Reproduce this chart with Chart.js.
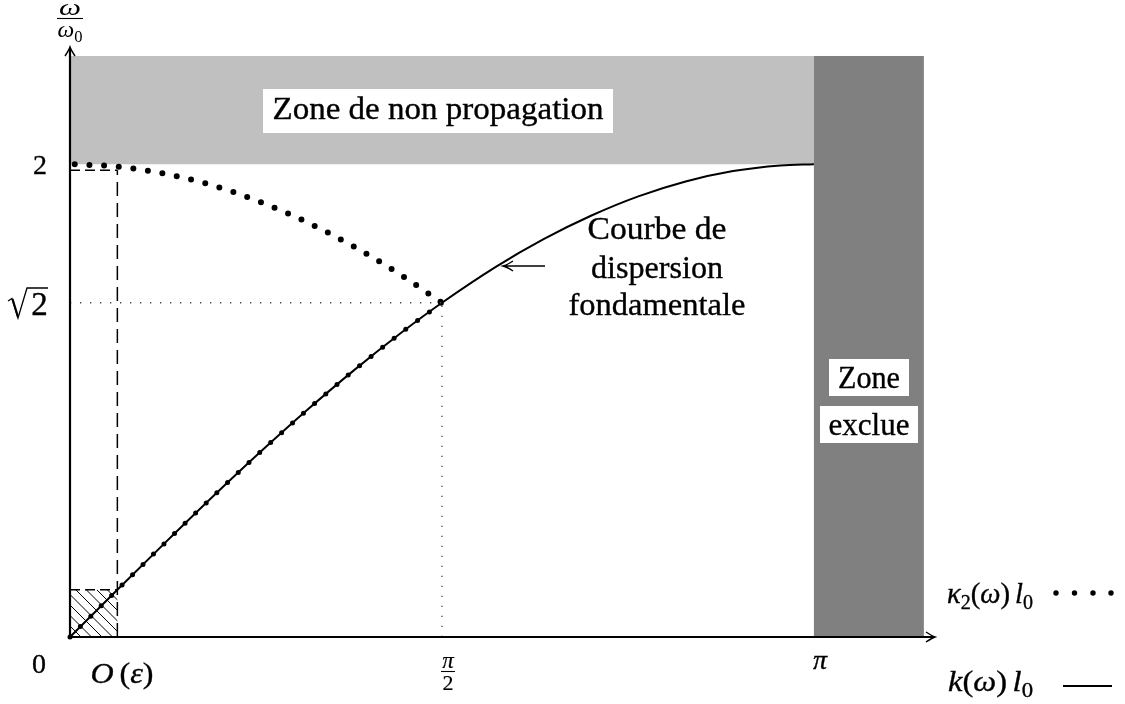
<!DOCTYPE html>
<html><head><meta charset="utf-8">
<script src="https://cdn.jsdelivr.net/npm/chart.js@4.4.0/dist/chart.umd.min.js"></script>
<style>html,body{margin:0;padding:0;background:#fff;}#wrap{width:1125px;height:704px;position:relative}</style>
</head><body><div id="wrap"><canvas id="c" width="1125" height="704"></canvas></div>
<script>
// ---- data (wavenumber k·l0 and reduced frequency ω/ω0) ----
const kSolid = [0, 0.2, 0.4, 0.6, 0.8, 1.0, 1.2, 1.4, 1.5708, 1.8, 2.0, 2.2, 2.4, 2.6, 2.8, 3.0, 3.1416];
const wSolid = [0, 0.200, 0.397, 0.591, 0.779, 0.959, 1.129, 1.288, 1.414, 1.567, 1.683, 1.782, 1.864, 1.927, 1.971, 1.995, 2.0];
const kLow = [0, 0.2, 0.4, 0.6, 0.8, 1.0, 1.2, 1.4, 1.5708];
const wLow = [0, 0.200, 0.397, 0.591, 0.779, 0.959, 1.129, 1.288, 1.414];
const kUp = [0.02, 0.2, 0.4, 0.6, 0.8, 1.0, 1.2, 1.4, 1.5708];
const wUp = [2.0, 1.990, 1.960, 1.911, 1.842, 1.755, 1.651, 1.530, 1.414];
const eps = 0.2, epsTop = 1.975, epsLow = 0.2;
const sqrt2 = 1.414, halfPi = 1.5708, piVal = 3.1416;
const zoneBottom = 2.0, zoneTop = 2.458, excludedEnd = 3.606;
const xMax = 3.653, yMax = 2.496;

const pts = (xs, ys) => xs.map((x, i) => ({x: x, y: ys[i]}));
const SERIF = '"Liberation Serif", "DejaVu Serif", serif';

function guide(data, dash, width, color) {
  return {data: data, borderColor: color, borderWidth: width, borderDash: dash,
          pointRadius: 0, fill: false, tension: 0, clip: false};
}

const datasets = [
  guide([{x: eps, y: 0}, {x: eps, y: epsTop}], [14, 7], 1.5, '#000'),
  guide([{x: 0, y: epsTop}, {x: eps, y: epsTop}], [10, 5], 1.5, '#000'),
  guide([{x: 0, y: epsLow}, {x: eps, y: epsLow}], [10, 5], 1.5, '#000'),
  guide([{x: 0, y: sqrt2}, {x: halfPi, y: sqrt2}], [1.3, 8.7], 1.3, '#444'),
  guide([{x: halfPi, y: 0}, {x: halfPi, y: sqrt2}], [1.3, 8.7], 1.3, '#444'),
  {data: pts(kSolid, wSolid), borderColor: '#000', borderWidth: 2, pointRadius: 0,
   cubicInterpolationMode: 'monotone', fill: false, clip: false},
  {data: pts(kLow, wLow), borderColor: '#000', borderWidth: 5, pointRadius: 0,
   borderDash: [0, 14.7], borderCapStyle: 'round', cubicInterpolationMode: 'monotone', fill: false, clip: false},
  {data: pts(kUp, wUp), borderColor: '#000', borderWidth: 6, pointRadius: 0,
   borderDash: [0, 14.7], borderCapStyle: 'round', cubicInterpolationMode: 'monotone', fill: false, clip: false}
];

function fitText(ctx, str, cx, base, size, target, italic, weight) {
  ctx.save();
  ctx.font = (italic ? 'italic ' : '') + size + 'px ' + SERIF;
  const w = ctx.measureText(str).width;
  const s = target ? target / w : 1;
  ctx.translate(cx, base);
  ctx.scale(s, 1);
  ctx.textAlign = 'center';
  ctx.textBaseline = 'alphabetic';
  ctx.fillStyle = '#000';
  ctx.strokeStyle = '#000';
  ctx.lineWidth = weight === undefined ? 0.35 : weight;
  ctx.fillText(str, 0, 0);
  if (ctx.lineWidth > 0.01 && weight !== 0) ctx.strokeText(str, 0, 0);
  ctx.restore();
}

// parts: [text, style] style: 'i' italic, 'r' roman, 's' subscript roman, 'g' gap (em)
function drawRich(ctx, parts, x, base, size, align, target, weight) {
  const fontOf = st => (st === 'i' ? 'italic ' : '') + (st === 's' ? size * 0.7 : size) + 'px ' + SERIF;
  let total = 0;
  const ws = parts.map(p => {
    if (p[1] === 'g') return p[0] * size;
    ctx.font = fontOf(p[1]);
    return ctx.measureText(p[0]).width;
  });
  ws.forEach(w => total += w);
  const s = target ? target / total : 1;
  ctx.save();
  let start = align === 'center' ? x - total * s / 2 : (align === 'right' ? x - total * s : x);
  ctx.translate(start, base);
  ctx.scale(s, 1);
  ctx.textAlign = 'left';
  ctx.textBaseline = 'alphabetic';
  ctx.fillStyle = '#000';
  ctx.strokeStyle = '#000';
  const lw = weight === undefined ? 0.35 : weight;
  ctx.lineWidth = lw;
  let cx = 0;
  parts.forEach((p, i) => {
    if (p[1] !== 'g') {
      ctx.font = fontOf(p[1]);
      const dy = p[1] === 's' ? size * 0.22 : 0;
      ctx.fillText(p[0], cx, dy);
      if (lw > 0) ctx.strokeText(p[0], cx, dy);
    }
    cx += ws[i];
  });
  ctx.restore();
}

const backgroundPlugin = {
  id: 'zones',
  beforeDatasetsDraw(chart) {
    const ctx = chart.ctx, xs = chart.scales.x, ys = chart.scales.y;
    ctx.save();
    ctx.fillStyle = '#c0c0c0';
    const x0 = xs.getPixelForValue(0), xp = xs.getPixelForValue(piVal), xe = xs.getPixelForValue(excludedEnd);
    const y0 = ys.getPixelForValue(0), y2 = ys.getPixelForValue(zoneBottom), yt = ys.getPixelForValue(zoneTop);
    ctx.fillRect(x0, yt, xp - x0, y2 - yt);
    ctx.fillStyle = '#808080';
    ctx.fillRect(xp, yt, xe - xp, y0 - yt);
    const hx1 = xs.getPixelForValue(eps), hy1 = ys.getPixelForValue(epsLow);
    ctx.beginPath();
    ctx.rect(x0, hy1, hx1 - x0, y0 - hy1);
    ctx.clip();
    ctx.strokeStyle = '#000';
    ctx.lineWidth = 1;
    const h = y0 - hy1;
    for (let o = -h - 10; o < hx1 - x0 + 10; o += 10.5) {
      ctx.beginPath();
      ctx.moveTo(x0 + o, hy1);
      ctx.lineTo(x0 + o + h, y0);
      ctx.stroke();
    }
    ctx.restore();
  },
  afterDatasetsDraw(chart) {
    const ctx = chart.ctx, xs = chart.scales.x, ys = chart.scales.y;
    const x0 = xs.getPixelForValue(0), y0 = ys.getPixelForValue(0);
    const xEnd = xs.getPixelForValue(xMax), yEnd = ys.getPixelForValue(yMax);
    ctx.save();
    ctx.strokeStyle = '#000';
    ctx.fillStyle = '#000';
    ctx.lineWidth = 2.2;
    ctx.lineCap = 'butt';
    ctx.beginPath();
    ctx.moveTo(x0 - 1, y0); ctx.lineTo(xEnd - 1, y0);
    ctx.moveTo(x0, y0 + 1); ctx.lineTo(x0, yEnd + 1);
    ctx.stroke();
    ctx.lineWidth = 1.5;
    ctx.beginPath();
    ctx.moveTo(xEnd - 9, y0 - 5); ctx.quadraticCurveTo(xEnd - 3, y0 - 1, xEnd, y0);
    ctx.quadraticCurveTo(xEnd - 3, y0 + 1, xEnd - 9, y0 + 5);
    ctx.moveTo(x0 - 5, yEnd + 9); ctx.quadraticCurveTo(x0 - 1, yEnd + 3, x0, yEnd);
    ctx.quadraticCurveTo(x0 + 1, yEnd + 3, x0 + 5, yEnd + 9);
    ctx.stroke();

    ctx.lineWidth = 1.4;
    ctx.beginPath();
    ctx.moveTo(545, 266); ctx.lineTo(504, 266);
    ctx.moveTo(513, 261); ctx.quadraticCurveTo(507, 265, 503, 266);
    ctx.quadraticCurveTo(507, 267, 513, 271);
    ctx.stroke();

    ctx.fillStyle = '#fff';
    ctx.fillRect(263, 89, 350, 44);
    ctx.fillRect(829, 359, 80, 37);
    ctx.fillRect(820, 406, 98, 37);
    ctx.restore();

    fitText(ctx, 'Zone de non propagation', 438, 119, 31, 331);
    fitText(ctx, 'Zone', 869, 388, 31, 62);
    fitText(ctx, 'exclue', 869, 435, 31, 81);
    fitText(ctx, 'Courbe de', 657, 239, 31, 139);
    fitText(ctx, 'dispersion', 657, 278, 31, 132);
    fitText(ctx, 'fondamentale', 657, 315, 31, 177);

    fitText(ctx, '2', 40, 174, 28);
    fitText(ctx, '0', 39, 673, 28);
    fitText(ctx, '2', 39.5, 315, 33);
    ctx.save();
    ctx.strokeStyle = '#000'; ctx.lineWidth = 1.3; ctx.lineJoin = 'miter';
    ctx.beginPath();
    ctx.moveTo(8, 301); ctx.lineTo(12, 298.5); ctx.lineTo(18, 318); ctx.lineTo(27, 288); ctx.lineTo(48, 288);
    ctx.stroke();
    ctx.lineWidth = 2.2;
    ctx.beginPath(); ctx.moveTo(12.5, 299); ctx.lineTo(18, 317); ctx.stroke();
    ctx.restore();

    drawRich(ctx, [['ω', 'i']], 70, 15, 23, 'center', 22, 0);
    ctx.save(); ctx.lineWidth = 1.1; ctx.strokeStyle = '#000';
    ctx.beginPath(); ctx.moveTo(57, 18.5); ctx.lineTo(83, 18.5); ctx.stroke(); ctx.restore();
    drawRich(ctx, [['ω', 'i'], ['0', 's']], 70, 37, 23, 'center', 25, 0);

    drawRich(ctx, [['O', 'i'], [0.18, 'g'], ['(', 'r'], ['ε', 'i'], [')', 'r']], 122, 683, 30, 'center', 63);
    drawRich(ctx, [['π', 'i']], 448, 668, 23, 'center', undefined, 0.2);
    ctx.save(); ctx.lineWidth = 1.1; ctx.strokeStyle = '#000';
    ctx.beginPath(); ctx.moveTo(441, 671.5); ctx.lineTo(455, 671.5); ctx.stroke(); ctx.restore();
    fitText(ctx, '2', 448, 690, 22, undefined, false, 0.2);
    drawRich(ctx, [['π', 'i']], 820, 669, 28, 'center');

    drawRich(ctx, [['κ', 'i'], ['2', 's'], ['(', 'r'], ['ω', 'i'], [')', 'r'], [0.17, 'g'], ['l', 'i'], ['0', 's']], 947, 603, 29, 'left', 86);
    drawRich(ctx, [['k', 'i'], ['(', 'r'], ['ω', 'i'], [')', 'r'], [0.17, 'g'], ['l', 'i'], ['0', 's']], 948, 691, 29, 'left', 85);
    ctx.save();
    ctx.fillStyle = '#000';
    [1056, 1074.5, 1093, 1111].forEach(x => { ctx.beginPath(); ctx.arc(x, 593, 2.7, 0, Math.PI * 2); ctx.fill(); });
    ctx.strokeStyle = '#000'; ctx.lineWidth = 1.9;
    ctx.beginPath(); ctx.moveTo(1063, 686); ctx.lineTo(1112, 686); ctx.stroke();
    ctx.restore();
  }
};

new Chart(document.getElementById('c'), {
  type: 'line',
  data: {datasets: datasets},
  options: {
    responsive: false,
    devicePixelRatio: 1,
    animation: false,
    layout: {padding: {left: 70, right: 190, top: 47, bottom: 67}},
    plugins: {legend: {display: false}, tooltip: {enabled: false}},
    elements: {line: {tension: 0}},
    scales: {
      x: {type: 'linear', min: 0, max: xMax, display: false},
      y: {type: 'linear', min: 0, max: yMax, display: false}
    }
  },
  plugins: [backgroundPlugin]
});
</script>
</body></html>
